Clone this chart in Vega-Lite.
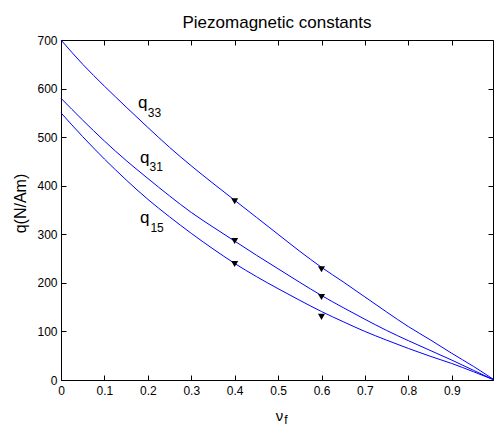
{
  "$schema": "https://vega.github.io/schema/vega-lite/v6.json",
  "width": 432,
  "height": 340,
  "autosize": {"type": "none"},
  "padding": {"left": 61, "top": 40, "right": 1, "bottom": 48},
  "background": "white",
  "config": {
    "view": {"stroke": null},
    "font": "Liberation Sans",
    "axis": {
      "grid": false,
      "domainColor": "black",
      "tickColor": "black",
      "labelColor": "black",
      "titleColor": "black",
      "labelFont": "Liberation Sans",
      "titleFont": "Liberation Sans",
      "labelFontSize": 12,
      "titleFontWeight": "normal",
      "tickSize": -5,
      "domainWidth": 1,
      "tickWidth": 1
    }
  },
  "title": {
    "text": "Piezomagnetic constants",
    "font": "Liberation Sans",
    "fontSize": 17,
    "fontWeight": "normal",
    "color": "black",
    "anchor": "middle",
    "frame": "group",
    "baseline": "alphabetic",
    "offset": 13,
    "dy": 24
  },
  "datasets": {
    "curves": [
      {"series": "q33", "nu": 0, "q": 700}, {"series": "q33", "nu": 0.05, "q": 650}, {"series": "q33", "nu": 0.1, "q": 605},
      {"series": "q33", "nu": 0.15, "q": 562}, {"series": "q33", "nu": 0.2, "q": 520}, {"series": "q33", "nu": 0.25, "q": 479},
      {"series": "q33", "nu": 0.3, "q": 441}, {"series": "q33", "nu": 0.35, "q": 405}, {"series": "q33", "nu": 0.4, "q": 370},
      {"series": "q33", "nu": 0.45, "q": 335}, {"series": "q33", "nu": 0.5, "q": 300}, {"series": "q33", "nu": 0.55, "q": 265},
      {"series": "q33", "nu": 0.6, "q": 232}, {"series": "q33", "nu": 0.65, "q": 202}, {"series": "q33", "nu": 0.7, "q": 171},
      {"series": "q33", "nu": 0.75, "q": 140}, {"series": "q33", "nu": 0.8, "q": 110}, {"series": "q33", "nu": 0.85, "q": 83},
      {"series": "q33", "nu": 0.9, "q": 55}, {"series": "q33", "nu": 0.95, "q": 28}, {"series": "q33", "nu": 0.995, "q": 2},
      {"series": "q31", "nu": 0, "q": 580}, {"series": "q31", "nu": 0.05, "q": 535}, {"series": "q31", "nu": 0.1, "q": 492},
      {"series": "q31", "nu": 0.15, "q": 452}, {"series": "q31", "nu": 0.2, "q": 415}, {"series": "q31", "nu": 0.25, "q": 379},
      {"series": "q31", "nu": 0.3, "q": 345}, {"series": "q31", "nu": 0.35, "q": 315}, {"series": "q31", "nu": 0.4, "q": 286},
      {"series": "q31", "nu": 0.45, "q": 257}, {"series": "q31", "nu": 0.5, "q": 229}, {"series": "q31", "nu": 0.55, "q": 201},
      {"series": "q31", "nu": 0.6, "q": 174}, {"series": "q31", "nu": 0.65, "q": 149}, {"series": "q31", "nu": 0.7, "q": 125},
      {"series": "q31", "nu": 0.75, "q": 102}, {"series": "q31", "nu": 0.8, "q": 81}, {"series": "q31", "nu": 0.85, "q": 61},
      {"series": "q31", "nu": 0.9, "q": 41}, {"series": "q31", "nu": 0.95, "q": 20}, {"series": "q31", "nu": 0.995, "q": 1},
      {"series": "q15", "nu": 0, "q": 550}, {"series": "q15", "nu": 0.05, "q": 501}, {"series": "q15", "nu": 0.1, "q": 455},
      {"series": "q15", "nu": 0.15, "q": 412}, {"series": "q15", "nu": 0.2, "q": 372}, {"series": "q15", "nu": 0.25, "q": 336},
      {"series": "q15", "nu": 0.3, "q": 302}, {"series": "q15", "nu": 0.35, "q": 270}, {"series": "q15", "nu": 0.4, "q": 240},
      {"series": "q15", "nu": 0.45, "q": 213}, {"series": "q15", "nu": 0.5, "q": 188}, {"series": "q15", "nu": 0.55, "q": 164},
      {"series": "q15", "nu": 0.6, "q": 141}, {"series": "q15", "nu": 0.65, "q": 120}, {"series": "q15", "nu": 0.7, "q": 100},
      {"series": "q15", "nu": 0.75, "q": 82}, {"series": "q15", "nu": 0.8, "q": 65}, {"series": "q15", "nu": 0.85, "q": 49},
      {"series": "q15", "nu": 0.9, "q": 34}, {"series": "q15", "nu": 0.95, "q": 17}, {"series": "q15", "nu": 0.995, "q": 1}
    ],
    "markers": [
      {"series": "q33", "nu": 0.4, "q": 368}, {"series": "q33", "nu": 0.6, "q": 228},
      {"series": "q31", "nu": 0.4, "q": 286}, {"series": "q31", "nu": 0.6, "q": 171},
      {"series": "q15", "nu": 0.4, "q": 239}, {"series": "q15", "nu": 0.6, "q": 130}
    ],
    "labels": [
      {"nu": 0.188, "q": 560, "text": "q"},
      {"nu": 0.193, "q": 447, "text": "q"},
      {"nu": 0.193, "q": 323, "text": "q"}
    ],
    "subs": [
      {"nu": 0.2, "q": 542, "text": "33"},
      {"nu": 0.204, "q": 431, "text": "31"},
      {"nu": 0.206, "q": 305, "text": "15"},
      {"nu": 0.514, "q": -91, "text": "f"}
    ]
  },
  "resolve": {"axis": {"x": "independent", "y": "independent"}},
  "layer": [
    {
      "data": {"name": "curves"},
      "mark": {"type": "line", "color": "#0000ff", "strokeWidth": 1, "interpolate": "monotone"},
      "encoding": {
        "x": {
          "field": "nu", "type": "quantitative",
          "scale": {"domain": [0, 0.995], "nice": false, "zero": false},
          "axis": {
            "orient": "bottom",
            "values": [0, 0.1, 0.2, 0.3, 0.4, 0.5, 0.6, 0.7, 0.8, 0.9],
            "format": "~g",
            "labelPadding": 10,
            "labelFlush": false,
            "title": "ν",
            "titleFontSize": 15,
            "titleX": 218,
            "titleY": 40,
            "titleBaseline": "alphabetic",
            "titleAlign": "center"
          }
        },
        "y": {
          "field": "q", "type": "quantitative",
          "scale": {"domain": [0, 700], "nice": false},
          "axis": {
            "orient": "left",
            "values": [0, 100, 200, 300, 400, 500, 600, 700],
            "labelPadding": 9,
            "labelFlush": false,
            "title": "q(N/Am)",
            "titleFontSize": 16,
            "titleX": -36,
            "titleY": 163,
            "titleAngle": -90,
            "titleBaseline": "alphabetic",
            "titleAlign": "center"
          }
        },
        "detail": {"field": "series"}
      }
    },
    {
      "data": {"name": "markers"},
      "mark": {"type": "point", "shape": "triangle-down", "filled": true, "color": "black", "opacity": 1, "size": 49},
      "encoding": {
        "x": {
          "field": "nu", "type": "quantitative",
          "axis": {"orient": "top", "labels": false, "title": null, "values": [0, 0.1, 0.2, 0.3, 0.4, 0.5, 0.6, 0.7, 0.8, 0.9]}
        },
        "y": {
          "field": "q", "type": "quantitative",
          "axis": {"orient": "right", "labels": false, "title": null, "values": [0, 100, 200, 300, 400, 500, 600, 700]}
        }
      }
    },
    {
      "data": {"name": "labels"},
      "mark": {"type": "text", "font": "Liberation Sans", "fontSize": 17, "color": "black", "align": "center", "baseline": "alphabetic"},
      "encoding": {
        "x": {"field": "nu", "type": "quantitative", "axis": null},
        "y": {"field": "q", "type": "quantitative", "axis": null},
        "text": {"field": "text"}
      }
    },
    {
      "data": {"name": "subs"},
      "mark": {"type": "text", "font": "Liberation Sans", "fontSize": 12, "color": "black", "align": "left", "baseline": "alphabetic"},
      "encoding": {
        "x": {"field": "nu", "type": "quantitative", "axis": null},
        "y": {"field": "q", "type": "quantitative", "axis": null},
        "text": {"field": "text"}
      }
    }
  ]
}
